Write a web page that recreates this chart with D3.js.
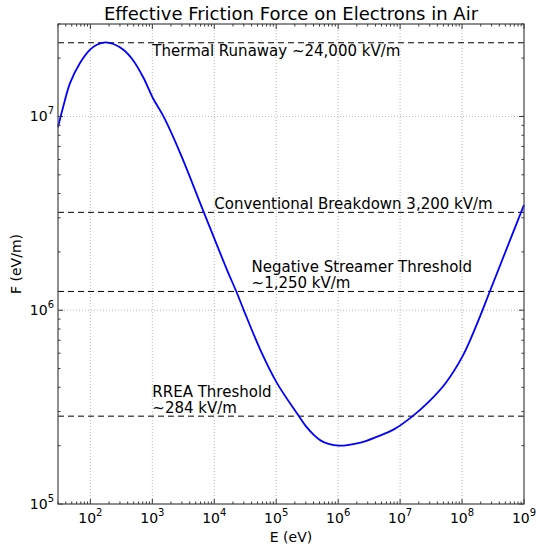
<!DOCTYPE html>
<html><head><meta charset="utf-8">
<script src="https://cdn.jsdelivr.net/npm/d3@7"></script>
<style>body{margin:0;background:#fff} text{font-family:"DejaVu Sans",sans-serif;fill:#000}</style>
</head><body><svg id="c" width="539" height="547"></svg>
<script>
// Data (E in eV, F in eV/m)
const energy = [30, 36.5, 46.9, 68, 98.7, 127, 173, 235, 341, 495, 719, 1020, 1514, 2818, 6710, 16030, 22700, 29800, 55400, 103000, 230700, 307600, 404000, 518000, 698000, 1.02e6, 2.30e6, 4.28e6, 7.94e6, 1.576e7, 2.89e7, 5.45e7, 1.026e8, 1.663e8, 2.835e8, 5.09e8, 1e9];
const friction = [8.8e6, 1.126e7, 1.487e7, 1.887e7, 2.21e7, 2.345e7, 2.41e7, 2.365e7, 2.21e7, 1.94e7, 1.584e7, 1.245e7, 1.0e7, 6.47e6, 3.23e6, 1.617e6, 1.249e6, 1.005e6, 6.25e5, 4.205e5, 2.85e5, 2.50e5, 2.274e5, 2.13e5, 2.043e5, 2.0e5, 2.075e5, 2.228e5, 2.427e5, 2.833e5, 3.366e5, 4.215e5, 5.81e5, 8.2e5, 1.26e6, 2.026e6, 3.50e6];
const thresholds = [2.4e7, 3.2e6, 1.25e6, 2.84e5];
const thresholdLabels = [["Thermal Runaway ~24,000 kV/m"], ["Conventional Breakdown 3,200 kV/m"], ["Negative Streamer Threshold", "~1,250 kV/m"], ["RREA Threshold", "~284 kV/m"]];
const labelEnergy = [1e3, 1e4, 4e4, 1e3];
const labelBelow = [true, false, false, false];
const xDomain = [30, 1e9];
const yDomain = [1e5, 3e7];
const xTickExponents = [2, 3, 4, 5, 6, 7, 8, 9];
const yTickExponents = [5, 6, 7];
const title = "Effective Friction Force on Electrons in Air";
const xLabel = "E (eV)";
const yLabel = "F (eV/m)";

const L = 58, R = 524, T = 24, B = 504;
const svg = d3.select("#c");
const x = d3.scaleLog().domain(xDomain).range([L, R]);
const y = d3.scaleLog().domain(yDomain).range([B, T]);

function logTicks(dom) {
  const major = [], minor = [];
  const a = Math.floor(Math.log10(dom[0])), b = Math.ceil(Math.log10(dom[1]));
  for (let e = a; e <= b; e++) {
    for (let m = 1; m < 10; m++) {
      const v = m * Math.pow(10, e);
      if (v < dom[0] * 0.9999 || v > dom[1] * 1.0001) continue;
      (m === 1 ? major : minor).push(v);
    }
  }
  return {major, minor};
}
const xt = logTicks(xDomain), yt = logTicks(yDomain);

// grid
const grid = svg.append("g").attr("stroke", "#b8b8b8").attr("stroke-width", 1).attr("stroke-dasharray", "1,2");
xt.major.forEach(v => { const px = x(v); if (px > L + 1 && px < R - 1) grid.append("line").attr("x1", px).attr("x2", px).attr("y1", T).attr("y2", B); });
yt.major.forEach(v => { const py = y(v); if (py > T + 1 && py < B - 1) grid.append("line").attr("y1", py).attr("y2", py).attr("x1", L).attr("x2", R); });

// threshold lines
svg.append("g").selectAll("line").data(thresholds).join("line")
  .attr("x1", L).attr("x2", R).attr("y1", d => y(d)).attr("y2", d => y(d))
  .attr("stroke", "#000").attr("stroke-width", 1).attr("stroke-dasharray", "6,4");

// curve
const line = d3.line().x((d, i) => x(energy[i])).y((d, i) => y(friction[i])).curve(d3.curveCatmullRom.alpha(0.5));
svg.append("path").datum(energy).attr("d", line).attr("fill", "none").attr("stroke", "#0000ff").attr("stroke-width", 1.8);

// threshold labels
thresholds.forEach((t, i) => {
  const lines = thresholdLabels[i];
  const ly = y(t);
  const tx = svg.append("text").attr("font-size", 15).attr("x", x(labelEnergy[i]));
  lines.forEach((s, k) => {
    let by;
    if (labelBelow[i]) by = ly + 13.5 + k * 16.5;
    else by = ly - 3 - (lines.length - 1 - k) * 16.5;
    tx.append("tspan").attr("x", x(labelEnergy[i])).attr("y", by).text(s);
  });
});

// ticks
const tk = svg.append("g").attr("stroke", "#333").attr("stroke-width", 1);
function xtick(v, len) { const px = x(v); tk.append("line").attr("x1", px).attr("x2", px).attr("y1", B).attr("y2", B - len); tk.append("line").attr("x1", px).attr("x2", px).attr("y1", T).attr("y2", T + len); }
function ytick(v, len) { const py = y(v); tk.append("line").attr("y1", py).attr("y2", py).attr("x1", L).attr("x2", L + len); tk.append("line").attr("y1", py).attr("y2", py).attr("x1", R).attr("x2", R - len); }
xt.major.forEach(v => xtick(v, 5)); xt.minor.forEach(v => xtick(v, 2.5));
yt.major.forEach(v => ytick(v, 5)); yt.minor.forEach(v => ytick(v, 2.5));

// frame
svg.append("rect").attr("x", L).attr("y", T).attr("width", R - L).attr("height", B - T)
  .attr("fill", "none").attr("stroke", "#444").attr("stroke-width", 1.2);

// tick labels
xTickExponents.forEach(e => {
  const t = svg.append("text").attr("x", x(Math.pow(10, e))).attr("y", 523).attr("text-anchor", "middle").attr("font-size", 14);
  t.append("tspan").text("10");
  t.append("tspan").attr("font-size", 10).attr("dy", -7).text(e);
});
yTickExponents.forEach(e => {
  const t = svg.append("text").attr("x", 54).attr("y", y(Math.pow(10, e)) + 5).attr("text-anchor", "end").attr("font-size", 14);
  t.append("tspan").text("10");
  t.append("tspan").attr("font-size", 10).attr("dy", -7).text(e);
});

// labels
svg.append("text").attr("x", (L + R) / 2).attr("y", 19.5).attr("text-anchor", "middle").attr("font-size", 18).text(title);
svg.append("text").attr("x", (L + R) / 2).attr("y", 542).attr("text-anchor", "middle").attr("font-size", 14).text(xLabel);
svg.append("text").attr("transform", `translate(21,${(T + B) / 2}) rotate(-90)`).attr("text-anchor", "middle").attr("font-size", 14).text(yLabel);
</script></body></html>
